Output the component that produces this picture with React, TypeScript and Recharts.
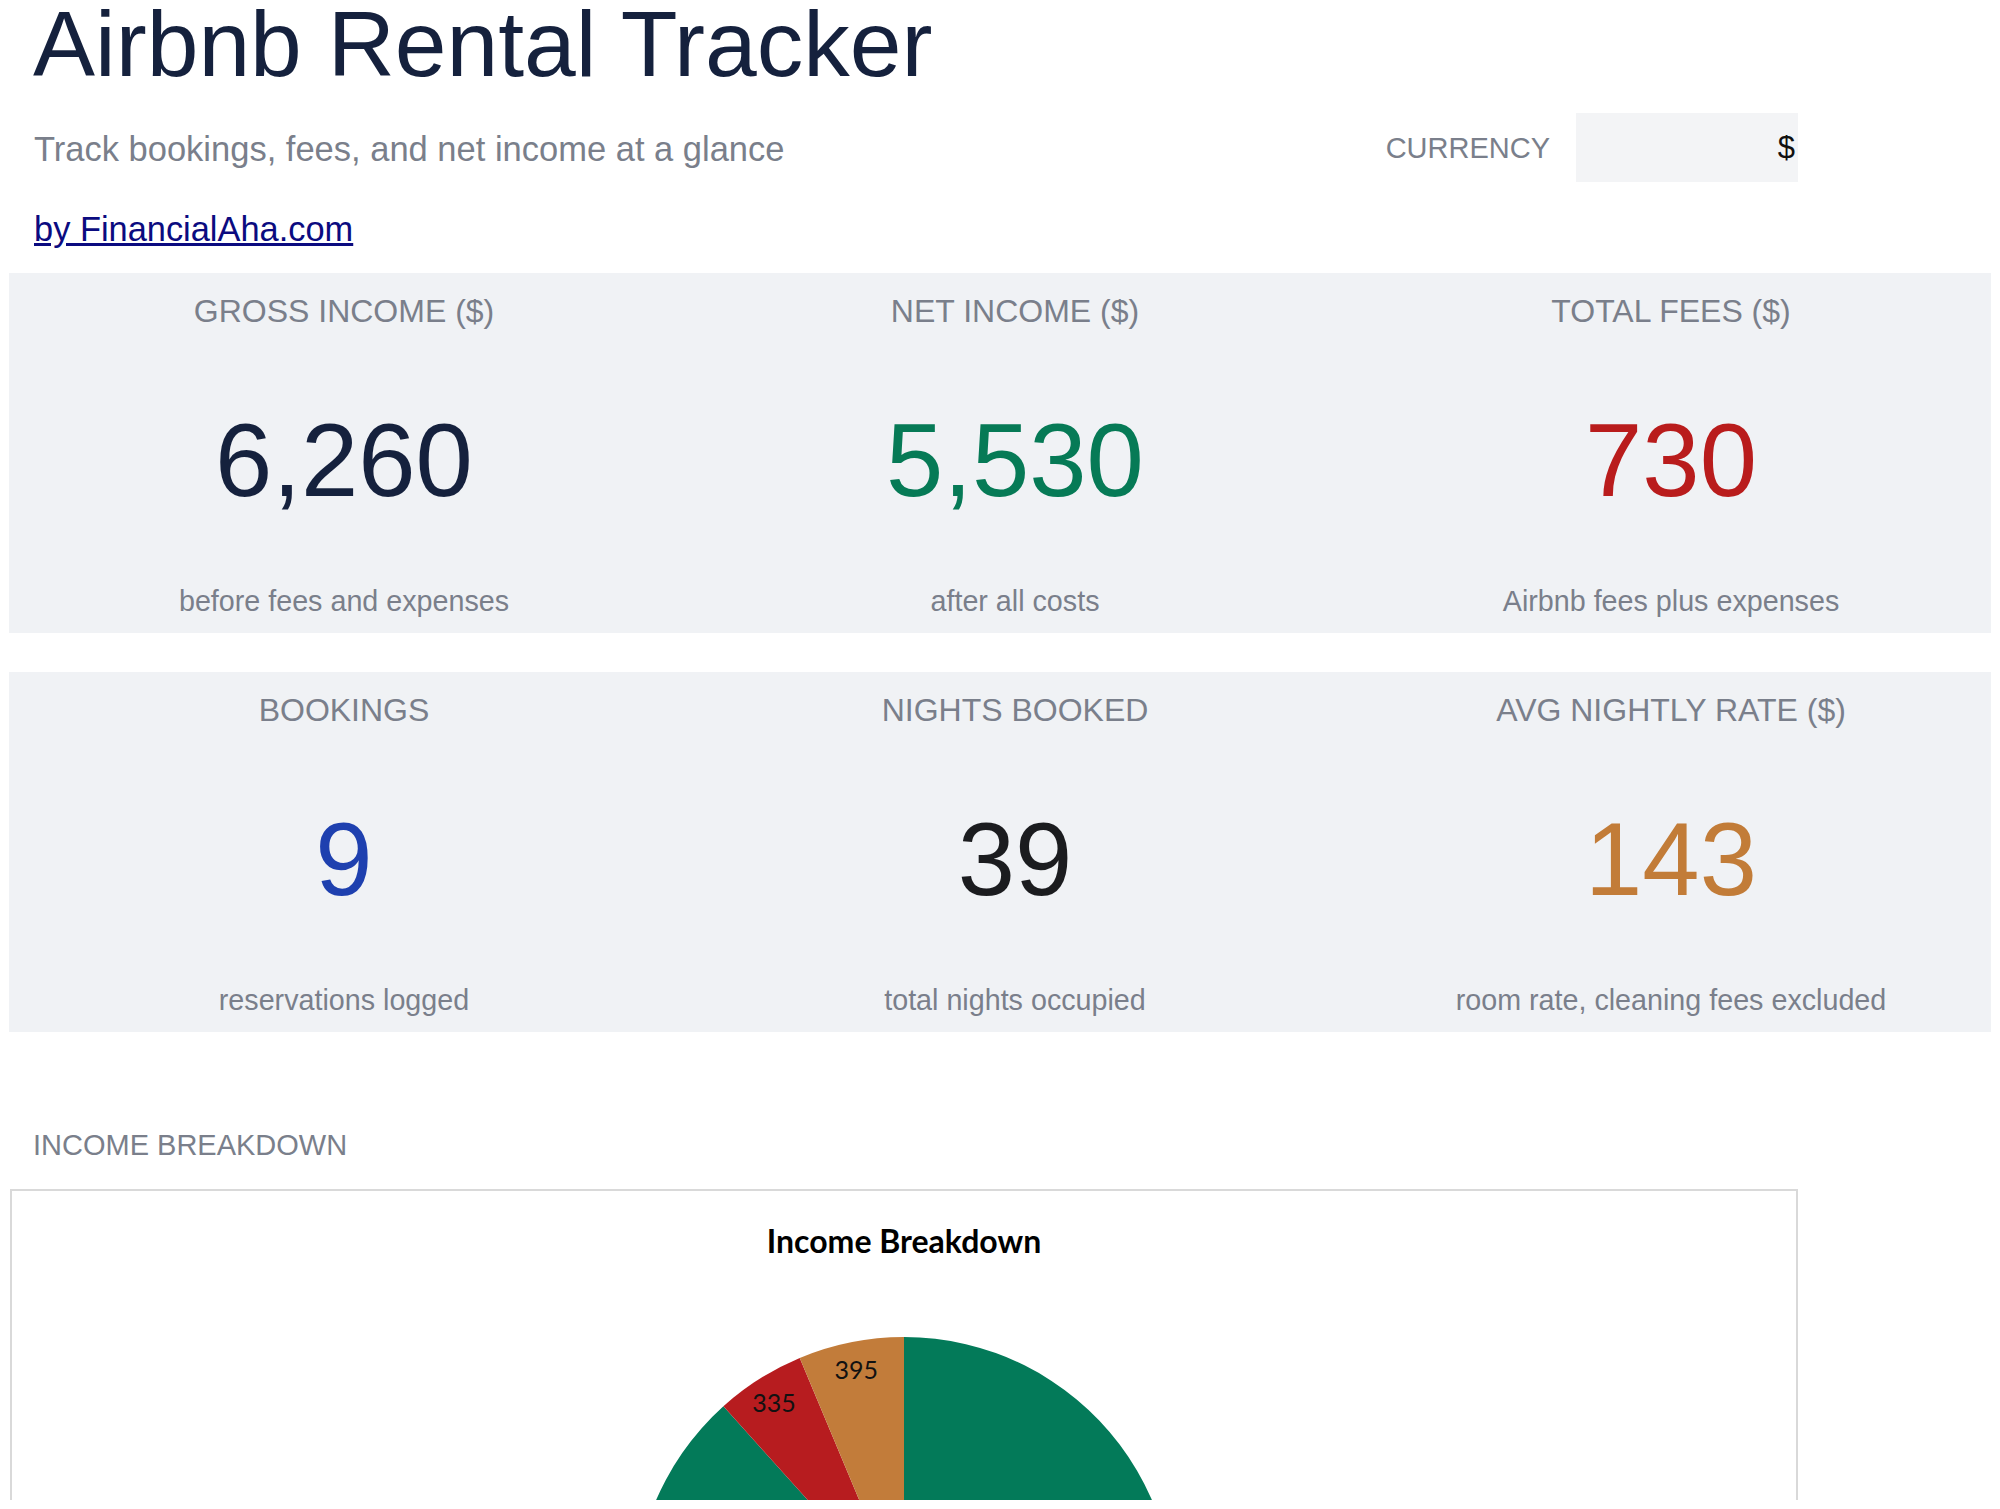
import React from "react";
import { PieChart, Pie, Cell } from "recharts";

// KPI cards
const kpiLabels = ["GROSS INCOME ($)", "NET INCOME ($)", "TOTAL FEES ($)", "BOOKINGS", "NIGHTS BOOKED", "AVG NIGHTLY RATE ($)"];
const kpiValues = ["6,260", "5,530", "730", "9", "39", "143"];
const kpiNotes = [
  "before fees and expenses",
  "after all costs",
  "Airbnb fees plus expenses",
  "reservations logged",
  "total nights occupied",
  "room rate, cleaning fees excluded",
];
const kpiColors = ["#15213d", "#067a56", "#b91c1c", "#1e40af", "#1b1c1f", "#c27c38"];

// pie
const sliceNames = ["Net Income", "Airbnb Fees", "Expenses"];
const sliceValues = [5530, 335, 395];
const sliceColors = ["#037a59", "#b71c1f", "#c27c3a"];

const pieData = sliceNames.map((name, i) => ({ name, value: sliceValues[i] }));

const SANS = '"Liberation Sans", Arial, Helvetica, sans-serif';
const GRAY = "#7a7f8b";
const colCenters = [344, 1015, 1671];
const RADIAN = Math.PI / 180;

// place a line of Liberation Sans text by its baseline (line box of 0.8em)
function Txt({ x, base, size, color, align = "left", children, style }: any) {
  const top = base - 0.7465 * size;
  const pos: any = { position: "absolute", top, fontFamily: SANS, fontSize: size, lineHeight: `${size * 0.8}px`, color, whiteSpace: "nowrap" };
  if (align === "center") {
    pos.left = x - 500;
    pos.width = 1000;
    pos.textAlign = "center";
  } else if (align === "right") {
    pos.left = x - 1000;
    pos.width = 1000;
    pos.textAlign = "right";
  } else {
    pos.left = x;
  }
  return <div style={{ ...pos, ...style }}>{children}</div>;
}

function Card({ top, start }: { top: number; start: number }) {
  return (
    <>
      <div style={{ position: "absolute", left: 9, top, width: 1982, height: 360, background: "#f0f2f5" }} />
      {colCenters.map((c, j) => (
        <React.Fragment key={j}>
          <Txt x={c} base={top + 50} size={32} color={GRAY} align="center">{kpiLabels[start + j]}</Txt>
          <Txt x={c} base={top + 224} size={103} color={kpiColors[start + j]} align="center">{kpiValues[start + j]}</Txt>
          <Txt x={c} base={top + 338} size={28.7} color={GRAY} align="center">{kpiNotes[start + j]}</Txt>
        </React.Fragment>
      ))}
    </>
  );
}

const renderLabel = (p: any) => {
  const r = p.outerRadius - 27;
  const x = p.cx + r * Math.cos(-p.midAngle * RADIAN);
  const y = p.cy + r * Math.sin(-p.midAngle * RADIAN);
  return (
    <text x={x} y={y} fill="#111" textAnchor="middle" dominantBaseline="central" fontFamily="Lato, 'Open Sans', sans-serif" fontSize={25}>
      {p.value}
    </text>
  );
};

export default function App() {
  return (
    <div style={{ position: "absolute", left: 0, top: 0, width: 2000, height: 1509, background: "#fff" }}>
      <Txt x={33} base={76} size={93} color="#15213d">Airbnb Rental Tracker</Txt>
      <Txt x={34} base={162} size={34.5} color={GRAY}>Track bookings, fees, and net income at a glance</Txt>
      <Txt x={34} base={242} size={34.4} color="#0b0b80" style={{ textDecoration: "underline" }}>by FinancialAha.com</Txt>

      <Txt x={1550} base={159} size={29} color={GRAY} align="right">CURRENCY</Txt>
      <div style={{ position: "absolute", left: 1576, top: 113, width: 222, height: 69, background: "#f3f4f6" }} />
      <Txt x={1795} base={159} size={31} color="#111" align="right">$</Txt>

      <Card top={273} start={0} />
      <Card top={672} start={3} />

      <Txt x={33} base={1156} size={29} color={GRAY}>INCOME BREAKDOWN</Txt>

      {/* chart frame, cut at the bottom of the view like the reference */}
      <div style={{ position: "absolute", left: 10, top: 1189, width: 1784, height: 309, borderTop: "2px solid #d9d9d9", borderLeft: "2px solid #d9d9d9", borderRight: "2px solid #d9d9d9", background: "#fff", overflow: "hidden" }}>
        <div style={{ position: "absolute", left: 0, top: 0 }}>
          <PieChart width={1784} height={309}>
            <Pie
              data={pieData}
              dataKey="value"
              nameKey="name"
              cx={887}
              cy={411}
              outerRadius={270}
              startAngle={90}
              endAngle={-270}
              stroke="none"
              label={renderLabel}
              labelLine={false}
              isAnimationActive={false}
            >
              {pieData.map((d, i) => (
                <Cell key={d.name} fill={sliceColors[i]} />
              ))}
            </Pie>
          </PieChart>
        </div>
        <div style={{ position: "absolute", left: 0, top: 30, width: 1784, textAlign: "center", fontFamily: "Lato, 'Open Sans', sans-serif", fontWeight: 700, fontSize: 32, lineHeight: "40px", color: "#000", zIndex: 2 }}>
          Income Breakdown
        </div>
      </div>
    </div>
  );
}
